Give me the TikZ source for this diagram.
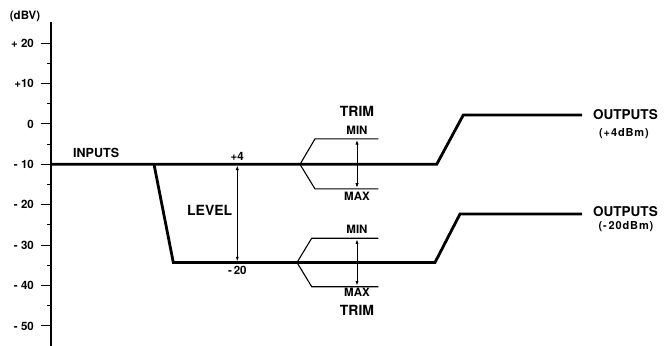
\documentclass[tikz,border=0pt]{standalone}
\usepackage{fontspec}
\setmainfont{TeX Gyre Heros}
\usetikzlibrary{positioning,arrows.meta,calc}
\tikzset{
	signal/.style={line width=2.8pt, line join=miter},
	trimline/.style={line width=1.1pt},
	axisline/.style={line width=1.6pt},
	span/.style={{Latex[length=4.5pt,width=3.2pt]}-{Latex[length=4.5pt,width=3.2pt]},
		line width=0.8pt, shorten <=1.2pt, shorten >=1.2pt},
	biglabel/.style={font=\fontsize{14}{14}\selectfont\bfseries, inner sep=0pt},
	inlabel/.style={font=\fontsize{12.5}{13}\selectfont\bfseries, inner sep=0pt},
	outlabel/.style={font=\fontsize{13.5}{14}\selectfont\bfseries, inner sep=0pt, anchor=west},
	smalllabel/.style={font=\fontsize{11.5}{12}\selectfont\bfseries, inner sep=0pt},
	dbmlabel/.style={font=\fontsize{11}{12}\selectfont\bfseries\addfontfeature{LetterSpace=8}, inner sep=0pt},
	ticklabel/.style={font=\fontsize{11.5}{12}\selectfont\bfseries, anchor=east, inner sep=0pt},
}

\begin{document}
\begin{tikzpicture}[x=1pt, y=4.04pt]
	\useasboundingbox (0,-54.97) rectangle (665,30.67);
	
	% ================= dBV scale =================
	\draw[axisline] (51,25.2) -- (51,-55);
	\node[smalllabel] (unit) at (25,26.5) {(dBV)};
	\foreach \v/\t in {20/+ 20,10/+10,0/0,-10/- 10,-20/- 20,-30/- 30,-40/- 40,-50/- 50}{
		\draw[trimline] (41,\v) -- (51,\v);
		\node[ticklabel] (lab\v) at (34,\v) {\t};
	}
	\foreach \v in {15,5,...,-45}
	\draw[trimline] (47,\v) -- (51,\v);
	
	% ================= signal paths =================
	\coordinate (in) at (51,-10);
	\coordinate (drop) at (154,-10);
	\coordinate (low) at (173.3,-34.3);
	\coordinate (riseA) at (436.7,-10);
	\coordinate (riseB) at (435,-34.3);
	\coordinate (outA) at (463.3,2.2);
	\coordinate (outB) at (460,-22.3);
	\coordinate (endA) at (582,2.2);
	\coordinate (endB) at (582,-22.3);
	
	\draw[signal] (in) -- (riseA) -- (outA) -- (endA);
	\draw[signal] (drop) -- (low) -- (riseB) -- (outB) -- (endB);
	
	\node[inlabel, anchor=west] (inputs) at (73,-7.1) {INPUTS};
	\node[outlabel] (outlabA) at ($(endA)+(11,0)$) {OUTPUTS};
	\node[dbmlabel] (dbmA) at (624,-2.4) {(+4dBm)};
	\node[outlabel] (outlabB) at ($(endB)+(11,0.5)$) {OUTPUTS};
	\node[dbmlabel] (dbmB) at (626,-25.4) {(-\,20dBm)};
	
	% ================= level range =================
	\coordinate (levTop) at (237.3,-10);
	\coordinate (levBot) at (237.3,-34.3);
	\draw[span] (levTop) -- (levBot);
	\node[smalllabel, above=3.5pt of levTop] (plus4) {+4};
	\node[smalllabel, below=3.5pt of levBot] (minus20) {-\,20};
	\node[biglabel, anchor=east] (level) at (232.5,-21.3) {LEVEL};
	
	% ================= trim controls =================
	\coordinate (trimA) at (300,-10);
	\coordinate (minA) at (357,-3.7);
	\coordinate (maxA) at (357,-16.1);
	\draw[trimline] (378.3,-3.7) -- (315,-3.7) -- (trimA) -- (315,-16.1) -- (378.3,-16.1);
	\draw[span] (minA) -- (maxA);
	\node[smalllabel, above=4.5pt of minA] (minlabA) {MIN};
	\node[smalllabel, below=2.5pt of maxA] (maxlabA) {MAX};
	\node[biglabel, above=9pt of minlabA] (trimlabA) {TRIM};
	
	\coordinate (trimB) at (297,-34.3);
	\coordinate (minB) at (357,-28.3);
	\coordinate (maxB) at (357,-40.3);
	\draw[trimline] (378.3,-28.3) -- (311.7,-28.3) -- (trimB) -- (311.7,-40.3) -- (378.3,-40.3);
	\draw[span] (minB) -- (maxB);
	\node[smalllabel, above=5pt of minB] (minlabB) {MIN};
	\node[smalllabel, below=1.5pt of maxB] (maxlabB) {MAX};
	\node[biglabel, below=8pt of maxlabB] (trimlabB) {TRIM};
	
\end{tikzpicture}
\end{document}
